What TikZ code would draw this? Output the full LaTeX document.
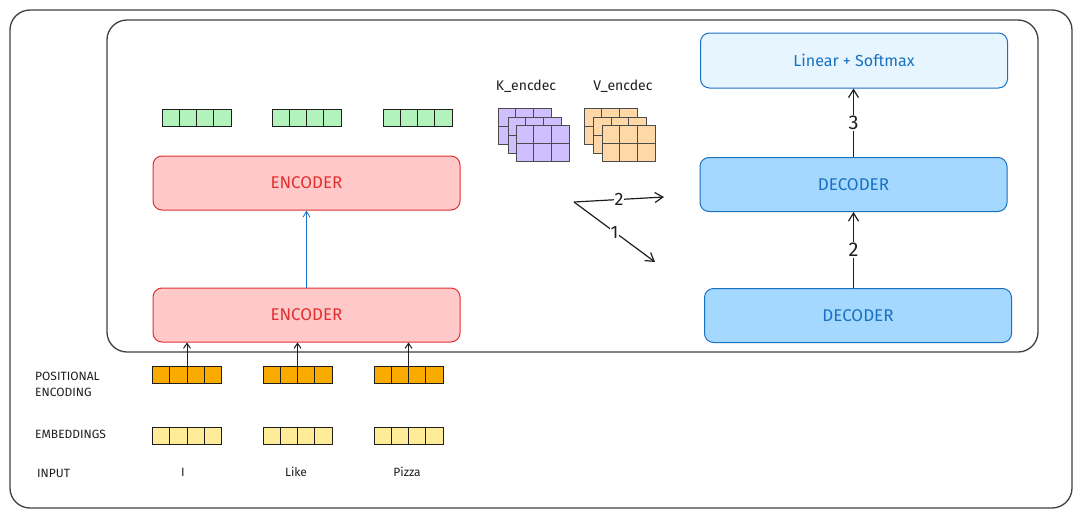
\documentclass[tikz,border=0pt]{standalone}
\usepackage{fontspec}
\setmainfont{Fira Sans}
\usetikzlibrary{arrows.meta}
\definecolor{ink}{HTML}{1E1E1E}
\definecolor{encred}{HTML}{E03131}
\definecolor{encfill}{HTML}{FFC9C9}
\definecolor{decblue}{HTML}{1971C2}
\definecolor{decfill}{HTML}{A5D8FF}
\definecolor{linfill}{HTML}{E7F5FF}
\definecolor{greenfill}{HTML}{B2F2BB}
\definecolor{purplefill}{HTML}{D0BFFF}
\definecolor{peachfill}{HTML}{FFD8A8}
\definecolor{orangefill}{HTML}{F9AB00}
\definecolor{yellowfill}{HTML}{FFEC99}
\tikzset{
  blk/.style={rounded corners=9pt, draw, line width=1pt, minimum width=307pt, minimum height=54pt, font=\fontsize{17}{19}\selectfont},
  enc/.style={blk, draw=encred, fill=encfill, text=encred},
  dec/.style={blk, draw=decblue, fill=decfill, text=decblue},
  vecbar/.style={draw=ink, line width=1pt, minimum width=69pt, minimum height=17pt, inner sep=0pt,
    path picture={\foreach \i in {1,2,3}{\draw[ink,line width=1pt] ([xshift=\i*17.25pt]path picture bounding box.south west) -- ([xshift=\i*17.25pt]path picture bounding box.north west);}}},
  gridbox/.style={draw=ink!80, line width=1pt, minimum width=53pt, minimum height=36pt, inner sep=0pt,
    path picture={\foreach \i in {1,2}{\draw[ink!80,line width=1pt] ([xshift=\i*17.67pt]path picture bounding box.south west) -- ([xshift=\i*17.67pt]path picture bounding box.north west);}
      \draw[ink!80,line width=1pt] (path picture bounding box.west) -- (path picture bounding box.east);}},
  lbl/.style={font=\fontsize{12}{16}\selectfont, text=ink, anchor=west, align=left, inner sep=0pt},
  word/.style={font=\fontsize{12}{14}\selectfont, text=ink},
  num/.style={fill=white, inner sep=1pt, text=ink},
  arr/.style={draw=ink, line width=1.2pt, -{Straight Barb[length=8pt,width=10pt]}},
  frame/.style={draw=ink!85, line width=1.3pt, rounded corners=20pt}
}
\begin{document}
\begin{tikzpicture}[x=1pt,y=-1pt]
\useasboundingbox (0,0) rectangle (1080,517);
% frames
\draw[frame] (10,10) rectangle (1072,508);
\draw[frame] (107,20) rectangle (1038,352);

% encoders
\node[enc] (encA) at (306.5,183) {ENCODER};
\node[enc] (encB) at (306.5,315) {ENCODER};
\draw[decblue, line width=0.8pt, -{Straight Barb[length=6pt,width=7pt]}] (encB.north) -- (encA.south);

% encoder outputs
\node[vecbar, fill=greenfill] (g1) at (196.5,117.5) {};
\node[vecbar, fill=greenfill] (g2) at (306.5,117.5) {};
\node[vecbar, fill=greenfill] (g3) at (417.5,117.5) {};

% K / V
\node[font=\fontsize{14}{16}\selectfont, text=ink] (klbl) at (526,86) {K\_encdec};
\node[font=\fontsize{14}{16}\selectfont, text=ink] (vlbl) at (623,86) {V\_encdec};
\node[gridbox, fill=purplefill] (k1) at (524.5,126) {};
\node[gridbox, fill=purplefill] (k2) at (534.5,135) {};
\node[gridbox, fill=purplefill] (k3) at (542.5,143) {};
\node[gridbox, fill=peachfill] (v1) at (610.5,126) {};
\node[gridbox, fill=peachfill] (v2) at (620,135) {};
\node[gridbox, fill=peachfill] (v3) at (628.5,143) {};

% decision arrows
\coordinate (s) at (574,202);
\coordinate (t2) at (664,197);
\coordinate (t1) at (655,262);
\draw[arr] (s) -- node[num, font=\fontsize{18}{20}\selectfont] {2} (t2);
\draw[arr] (s) -- node[num, font=\fontsize{18}{20}\selectfont] {1} (t1);

% decoders
\node[blk, draw=decblue, fill=linfill, text=decblue, minimum height=55pt, font=\fontsize{16}{18}\selectfont] (lin) at (854,60.5) {Linear + Softmax};
\node[dec] (decA) at (853.5,184.5) {DECODER};
\node[dec] (decB) at (858,315.5) {DECODER};
\draw[arr] (decA.south |- decB.north) -- node[num, font=\fontsize{20}{22}\selectfont] {2} (decA.south);
\draw[arr] (decA.north) -- node[num, font=\fontsize{20}{22}\selectfont] {3} (decA.north |- lin.south);

% positional encodings and embeddings
\node[vecbar, fill=orangefill] (pe1) at (187,375) {};
\node[vecbar, fill=orangefill] (pe2) at (297.5,375) {};
\node[vecbar, fill=orangefill] (pe3) at (408.5,375) {};
\node[vecbar, fill=yellowfill] (em1) at (187,436) {};
\node[vecbar, fill=yellowfill] (em2) at (297.5,436) {};
\node[vecbar, fill=yellowfill] (em3) at (408.5,436) {};
\draw[arr, line width=1pt, -{Straight Barb[length=5pt,width=7pt]}] (pe1.center) -- (pe1.center |- encB.south);
\draw[arr, line width=1pt, -{Straight Barb[length=5pt,width=7pt]}] (pe2.center) -- (pe2.center |- encB.south);
\draw[arr, line width=1pt, -{Straight Barb[length=5pt,width=7pt]}] (pe3.center) -- (pe3.center |- encB.south);

% row labels
\node[lbl] (lpe) at (35,384) {POSITIONAL\\ENCODING};
\node[lbl] (lem) at (35,434) {EMBEDDINGS};
\node[lbl] (lin0) at (37,473) {INPUT};
\node[word] (w1) at (183,472) {I};
\node[word] (w2) at (296,472) {Like};
\node[word] (w3) at (407,472) {Pizza};
\end{tikzpicture}
\end{document}
